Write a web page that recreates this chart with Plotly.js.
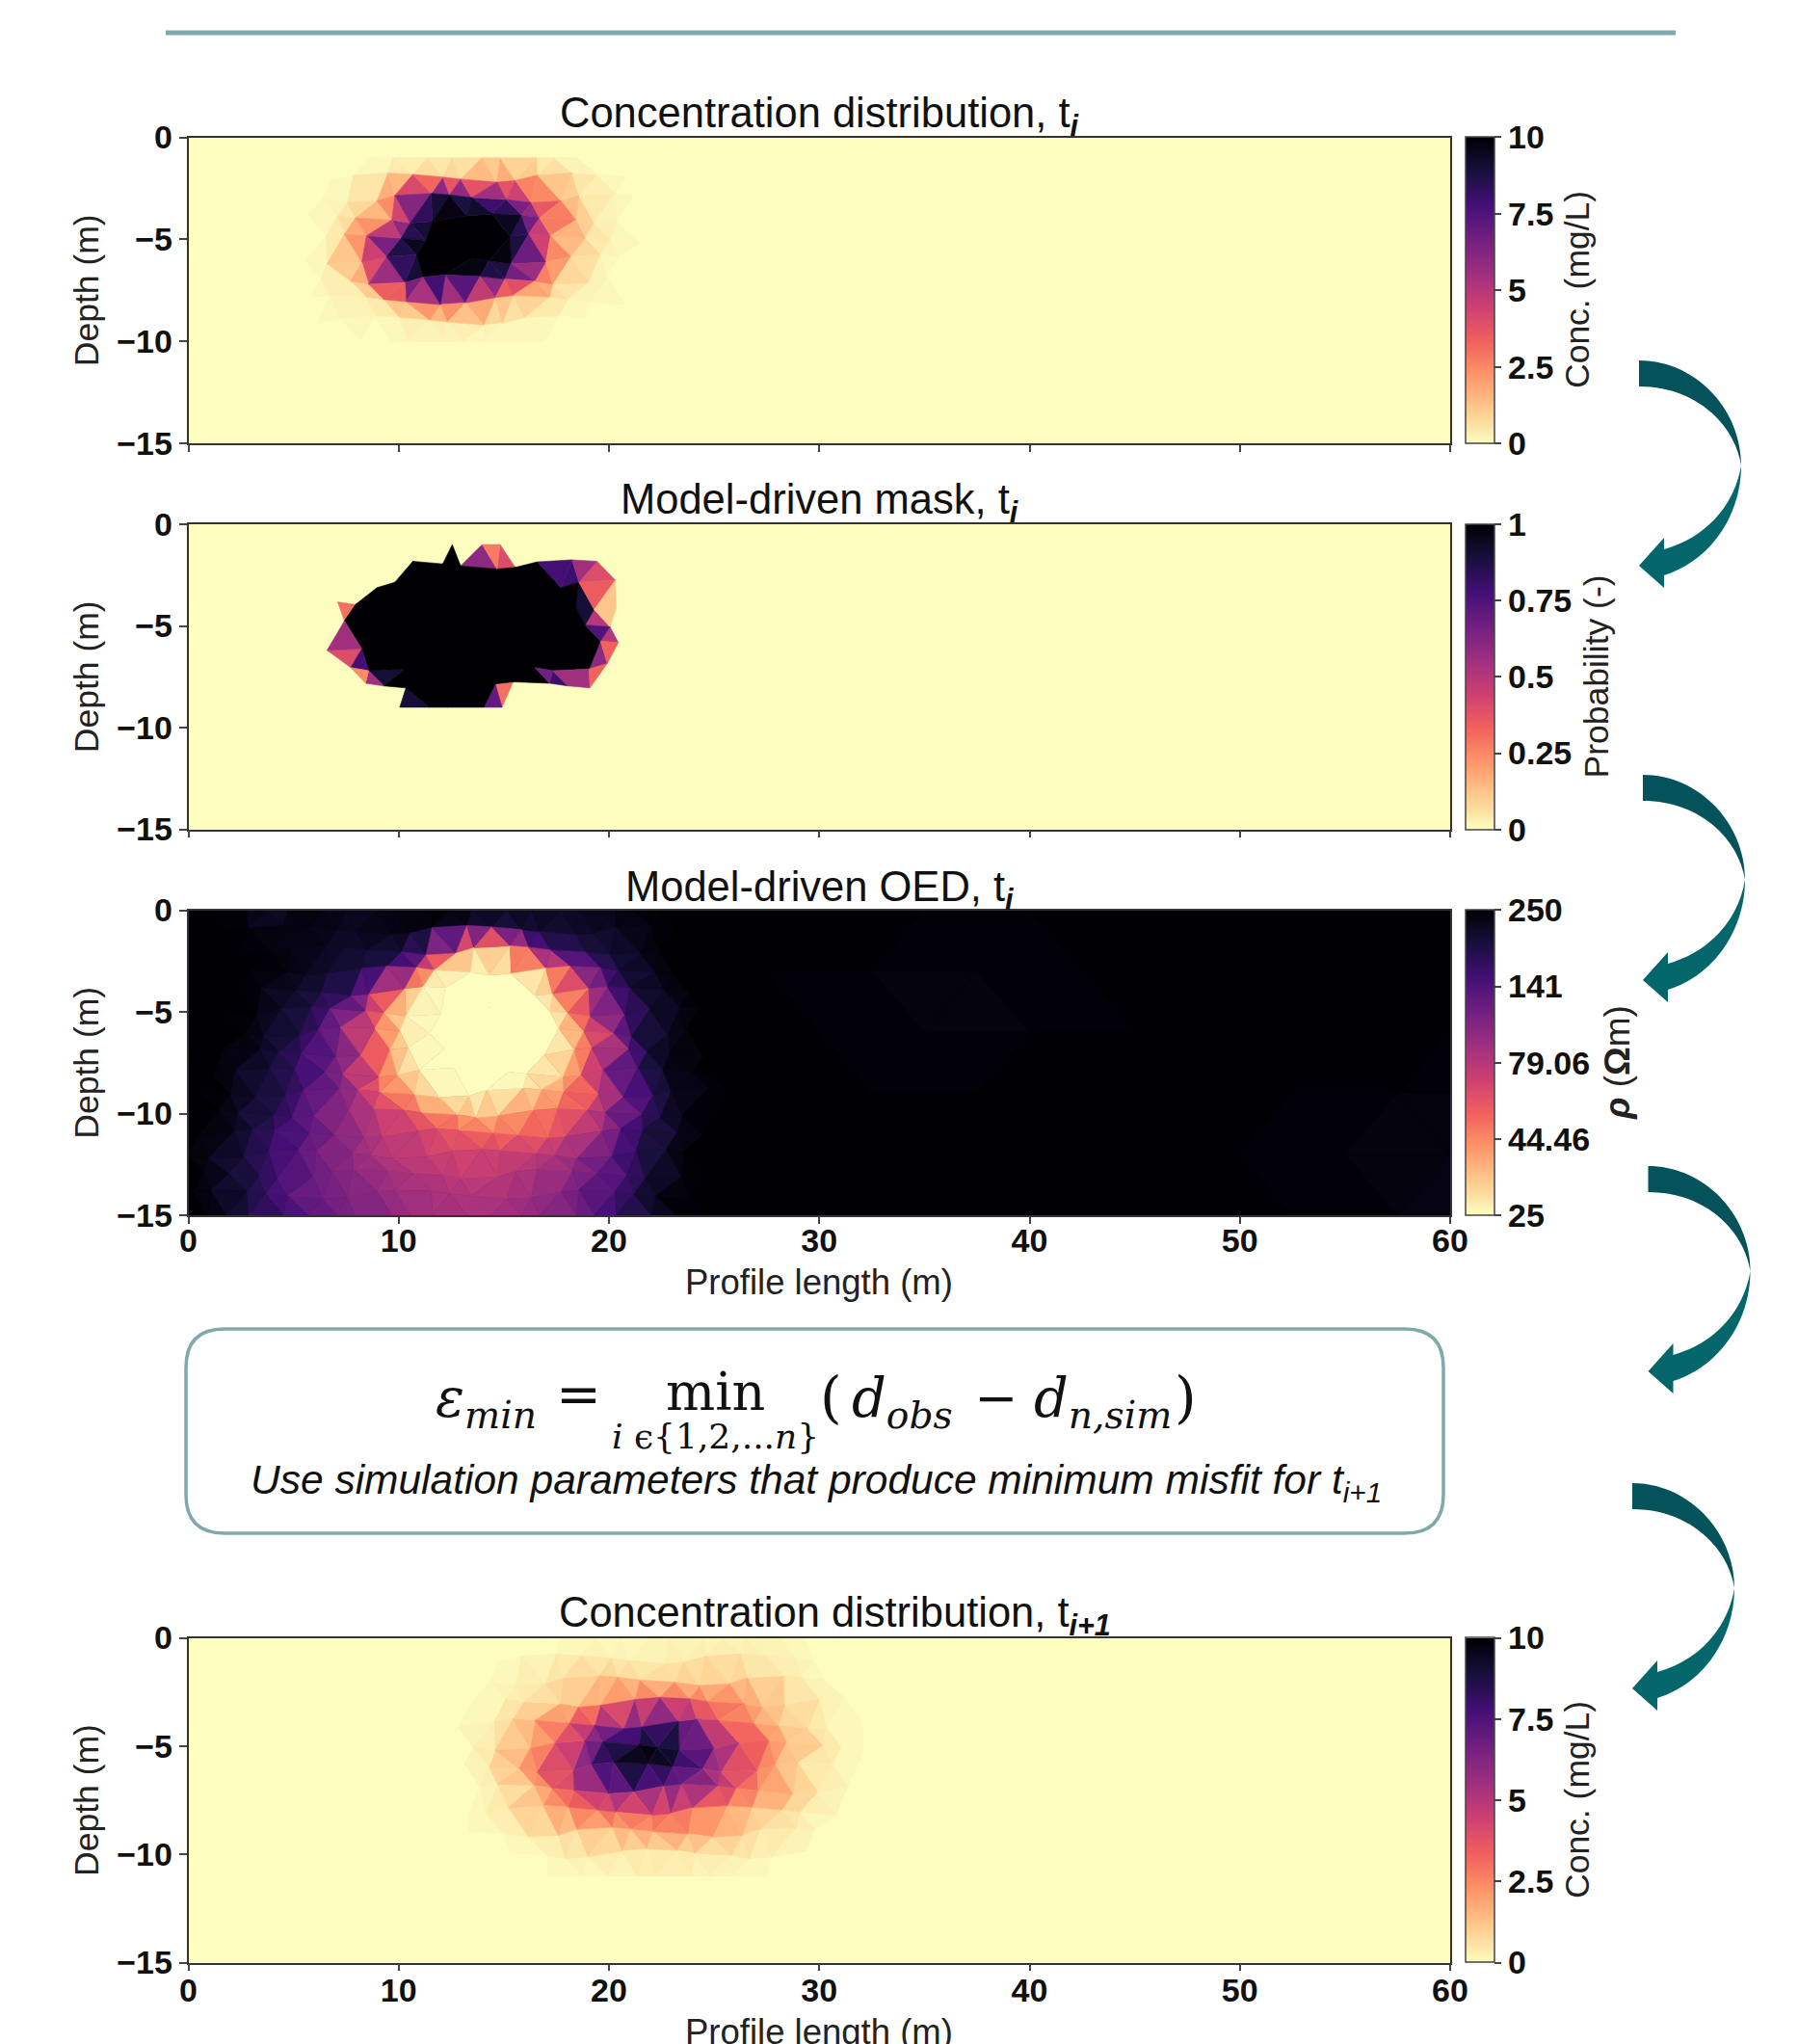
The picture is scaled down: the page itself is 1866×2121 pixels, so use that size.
<!DOCTYPE html>
<html><head><meta charset="utf-8">
<script src="https://cdn.plot.ly/plotly-3.0.1.min.js"></script>
<style>html,body{margin:0;padding:0;background:#fff}</style></head>
<body><div id="chart" style="width:1866px;height:2121px"></div>
<script>
// ---------- values (0-10 colour scale) ----------
const lengthTicks = [0,10,20,30,40,50,60];
const depthTicks = [0,-5,-10,-15];
const concTickVals = [0,2.5,5,7.5,10];
const concTickText = ['0','2.5','5','7.5','10'];
const maskTickText = ['0','0.25','0.5','0.75','1'];
const oedTickText = ['25','44.46','79.06','141','250'];

// node values
const concTi = [
[0,0,0,0,0.1,0.25,0.3,0.3,0.25,0.1,0.05,0,0,0],
[0,0,0,0.3,0.7,1,1.2,2.6,2.2,1.1,0.6,0.1,0,0],
[0,0,0.3,1.2,3.5,8,9,7.5,6.5,4.5,1.8,0.7,0.1,0],
[0,0.2,1,2.4,7,10,10,10,8.5,4.5,1.8,0.5,0.1,0],
[0,0.1,0.8,3.5,8.5,10,10,10,10,7,2.2,0.8,0.2,0],
[0,0.3,2.4,7.5,10,10,10,10,9.5,4,1.2,0.3,0,0],
[0,0.1,0.6,2.2,7,10,10,9,7,3.2,1,0.3,0.1,0],
[0,0.1,0.3,0.9,2.5,3.5,3,2,1.5,0.9,0.3,0.1,0,0],
[0,0,0.05,0.1,0.3,0.5,0.5,0.3,0.2,0.2,0.1,0,0,0],
[0,0,0,0,0,0,0,0,0,0,0,0,0,0]];

// per-triangle values, left to right along each mesh row
const maskTi = [
[0,0,0,0,0,0,0,0,0,0,0,10,0,6,2.8,4,0,0,0,0,0,0,0,0,0,0],
[0,0,0,0,0,0,0,0,10,10,10,10,10,10,10,10,10,10,10,7.8,8,5.5,4,0,0,0],
[0,0,0,0,0,10,10,10,10,10,10,10,10,10,10,10,10,10,10,10,10,9,3.5,1.2,0,0],
[0,0,0,3,10,10,10,10,10,10,10,10,10,10,10,10,10,10,10,10,10,9,5,1.2,0,0],
[0,0,0,5.5,10,10,10,10,10,10,10,10,10,10,10,10,10,10,10,10,10,10,7.5,5,0,0],
[0,0,0,4,7.8,10,10,10,10,10,10,10,10,10,10,10,10,10,10,10,10,10,6,3.3,0,0],
[0,0,0,0,2.4,5.5,9,10,10,10,10,10,10,10,10,10,10,10,6.7,8,5.5,5.5,3.3,0,0,0],
[0,0,0,0,0,0,0,0,9,10,10,10,10,10,7,3,0,0,0,0,0,0,0,0,0,0]];

const oedNear = [
[10,10,9.8,9,9.7,9.8,9.5,9.5,9.8,10,10,9.8,9.6,9.6,9.7,9.6,9.8,9.9,10,10,10],
[10,10,9.9,9.6,9.8,9.5,9.5,9.7,9.7,9.6,9.2,8.6,8.8,8.8,9,9.2,9.5,9.8,10,10,10],
[10,10,10,9.9,9.7,9.5,9.3,9.2,8.8,7,2.5,1,2,6.5,8,8.8,9,9.5,10,10,10],
[10,10,10,9.8,9.5,9.2,8.9,8.6,6,1,0,0,0,1.5,5.5,7.8,8.8,9.5,9.9,10,10],
[10,10,10,9.7,9.2,8.8,8,5.5,2.5,0.3,0,0,0,0,1.5,5,7.3,9,9.6,10,10],
[10,10,9.9,9.3,8.8,7.8,5.5,2.5,0.2,0,0,0,0,0,1.6,4.6,7.3,9,9.6,10,10],
[10,10,9.9,9.2,8.7,7.6,6,3.2,0.8,0,0,0,0,0,0.1,3,5.8,8.6,9.5,9.9,10],
[10,10,9.6,9,8,7,5.2,2.2,0.2,0,0,0,0,0,1.4,3.6,6.5,8.8,9.5,10,10],
[10,10,9.5,8.8,8.2,7,5.8,3.2,1.6,0.1,0,0,0,0.1,1.4,3.4,6.2,8.5,9.5,10,10],
[10,9.9,9.2,8.7,7.8,6.6,5.5,3,2,0.3,0,0,0.3,1,2.4,3.8,6.3,8.2,9.3,9.8,10],
[10,9.9,9.2,8.5,7.6,6.6,5.6,4.8,3.6,2.8,2,1.6,1.8,2.6,3,4.2,6,8,9,9.8,10],
[10,9.6,9,8.2,7.4,6.6,5.6,5,4.6,3.8,3.2,3,3.2,3.8,4.4,5.4,7,8.4,9.2,10,10],
[10,9.5,8.8,8,7.2,6.5,5.8,5.2,4.8,4.6,4.3,4.2,4.4,4.8,5.3,6,7.4,8.6,9.5,10,10],
[10,9.4,8.6,8,7,6.5,6,5.5,5.2,5,4.8,4.8,5,5.2,5.8,6.7,7.6,8.7,9.7,10,10],
[10,9.4,8.8,8,7.2,6.6,6.3,5.9,5.5,5.3,5.2,5.2,5.4,5.7,6.2,7,7.8,8.8,9.8,10,10],
[10,9.6,8.9,8.1,7.5,6.8,6.5,6.1,5.8,5.5,5.4,5.4,5.6,6,6.5,7.2,8,9,9.8,10,10]];

const oedFar = [
[10,10,10,10,10,10,10,10],
[10,9.9,9.8,9.9,10,10,10,10],
[10,9.9,9.8,9.9,10,10,10,10],
[10,10,10,10,10,10,9.9,9.9],
[10,10,10,10,10,9.9,9.9,9.7],
[10,10,10,10,10,10,9.8,9.6]];

const concTi1 = [
[0,0,0,0,0,0,0,0.05,0.1,0.15,0.15,0.1,0.05,0,0,0],
[0,0,0,0.1,0.2,0.3,0.3,0.3,0.4,0.4,0.4,0.3,0.2,0.1,0,0],
[0,0.1,0.3,0.6,0.8,1,1,0.9,1,1.2,1.2,0.8,0.4,0.15,0,0],
[0,0.1,0.4,0.9,1.3,2.4,3,3.2,3.2,3,2.5,1.8,1,0.5,0.1,0],
[0.1,0.3,1,1.6,3.6,5.5,7,7.5,7,4.5,3.2,2,1,0.5,0.1,0],
[0.1,0.6,1.6,3,5,7.5,9,10,9.5,6.5,4.5,3,1.8,0.8,0.2,0.1],
[0.1,0.5,2,3.4,5.5,7.5,9.5,10,8.2,6,4.5,2.8,1.6,0.6,0.1,0],
[0,0.3,1.2,2.5,4,5.5,6.5,6.5,7,5.5,4,2.6,1.4,0.6,0.1,0],
[0,0.2,0.7,1.8,2.8,3.8,3.4,3,3.5,3,2.2,1.3,0.8,0.3,0,0],
[0,0.1,0.2,0.5,1,1.6,2,2.3,2,1.5,1,0.6,0.4,0.1,0,0],
[0,0,0,0.1,0.2,0.3,0.5,0.5,0.5,0.4,0.3,0.2,0.1,0,0,0],
[0,0,0,0,0,0.05,0.1,0.15,0.15,0.1,0.05,0,0,0,0,0]];

// small node displacements of the unstructured mesh, in metres
const meshShiftX = [0.22,-0.18,0.3,-0.08,-0.28,0.12,0.05];
const meshShiftY = [0.15,-0.2,0.05,0.25,-0.12,-0.05,0.18];

const magma = ['#fcfdbf','#feca8d','#fd9668','#f1605d','#cd4071','#9e2f7f','#721f81','#440f76','#180f3d','#000004'];
const magmaScale = magma.map((c,i)=>[i/(magma.length-1),c]);
const teal = '#7fa9ab';
const W = 1866, H = 2121;
const px = v => v/W, py = v => 1-v/H;
const sans = '"Liberation Sans", Arial, sans-serif';
const serif = '"DejaVu Serif", "Liberation Serif", serif';

function hex(c){return [1,3,5].map(i=>parseInt(c.substr(i,2),16));}
function colorAt(v){
  const t = Math.max(0,Math.min(1,v/10))*(magma.length-1);
  const i = Math.min(magma.length-2,Math.floor(t)), f = t-i;
  const a = hex(magma[i]), b = hex(magma[i+1]);
  return 'rgb('+a.map((p,k)=>Math.round(p+(b[k]-p)*f)).join(',')+')';
}

// Flat-coloured triangles over a lattice of nodes, one fill trace per colour step.
function meshTraces(blocks, axis, skipBelow){
  const bins = {}, out = [];
  blocks.forEach(b=>{
    const rows = b.cellRows ? b.cellRows.length+1 : b.levels.length;
    const cols = b.cellRows ? b.cellRows[0].length/2+1 : b.levels[0].length;
    const jx = b.rigid ? 0 : 1;
    const X = (i,j)=> b.x0 + i*b.dx + (j%2 ? b.dx/2 : 0) + jx*meshShiftX[(i+2*j)%7];
    const Y = (i,j)=> b.y0 - j*b.dy + ((j>0 && j<rows-1) ? jx*meshShiftY[(3*i+j)%7] : 0);
    const put = (m,p)=>{
      if (m < skipBelow) return;
      const k = Math.round(m*10)/10;
      const e = bins[k] || (bins[k]={x:[],y:[]});
      p.concat([p[0]]).forEach(q=>{e.x.push(X(q[0],q[1]));e.y.push(Y(q[0],q[1]));});
      e.x.push(null);e.y.push(null);
    };
    const mean = p => { const L=b.levels; return (L[p[0][1]][p[0][0]]+L[p[1][1]][p[1][0]]+L[p[2][1]][p[2][0]])/3; };
    for (let j=0;j<rows-1;j++) for (let i=0;i<cols-1;i++){
      const a = j%2===0 ? [[i,j],[i+1,j],[i,j+1]] : [[i,j],[i,j+1],[i+1,j+1]];
      const c = j%2===0 ? [[i+1,j],[i,j+1],[i+1,j+1]] : [[i,j],[i+1,j],[i+1,j+1]];
      if (b.cellRows){ put(b.cellRows[j][2*i],a); put(b.cellRows[j][2*i+1],c); }
      else { put(mean(a),a); put(mean(c),c); }
    }
  });
  Object.keys(bins).forEach(k=>{
    const c = colorAt(+k);
    out.push({type:'scatter',mode:'lines',x:bins[k].x,y:bins[k].y,fill:'toself',fillcolor:c,
      line:{color:c,width:0.6},xaxis:axis.x,yaxis:axis.y,hoverinfo:'skip',showlegend:false});
  });
  return out;
}

function scaleTrace(blocks, axis, top, bottom, tickText){
  const x=[],y=[],c=[];
  blocks.forEach(b=>(b.levels||b.cellRows).forEach((row,j)=>row.forEach((v,i)=>{
    x.push(b.x0+i*b.dx*(b.levels?1:0.5)+(j%2?b.dx/2:0)); y.push(b.y0-j*b.dy); c.push(v);
  })));
  return {type:'scatter',mode:'markers',x,y,xaxis:axis.x,yaxis:axis.y,showlegend:false,hoverinfo:'skip',
    marker:{size:1,opacity:0,color:c,cmin:0,cmax:10,colorscale:magmaScale,showscale:true,
      colorbar:{x:px(1521),xref:'paper',xanchor:'left',y:1-(top+bottom)/2/H,yanchor:'middle',yref:'paper',
        len:(bottom-top)/H,lenmode:'fraction',thickness:30,thicknessmode:'pixels',xpad:0,ypad:0,
        outlinewidth:1.5,outlinecolor:'#444',ticks:'outside',ticklen:7,tickwidth:1.5,tickcolor:'#444',
        tickmode:'array',tickvals:concTickVals,ticktext:tickText,
        tickfont:{family:sans,size:34,color:'#111',weight:700}}}};
}

const panels = [
 {top:142.5,bottom:460,bg:magma[0],labels:false,skip:0.02,tick:concTickText,tx:850,
  title:'Concentration distribution, t<sub><b><i>i</i></b></sub>',ty:120,
  blocks:[{x0:5,y0:-1,dx:1.25,dy:1,levels:concTi}]},
 {top:544,bottom:860.5,bg:magma[0],labels:false,skip:0.02,tick:maskTickText,tx:850,
  title:'Model-driven mask, t<sub><b><i>i</i></b></sub>',ty:521,
  blocks:[{x0:5,y0:-1,dx:1.25,dy:1,cellRows:maskTi}]},
 {top:944.5,bottom:1261,bg:magma[9],labels:true,skip:-1,tick:oedTickText,standoff:-12,xTitleY:1330,tx:850,
  title:'Model-driven OED, t<sub><b><i>i</i></b></sub>',ty:923,
  blocks:[{x0:25,y0:0,dx:5,dy:3,levels:oedFar,rigid:true},{x0:0,y0:0,dx:1.25,dy:1,levels:oedNear}]},
 {top:1699.5,bottom:2036.5,bg:magma[0],labels:true,skip:0.02,tick:concTickText,standoff:-9,xTitleY:2108,tx:866,
  title:'Concentration distribution, t<sub><b><i>i+1</i></b></sub>',ty:1676,
  blocks:[{x0:13,y0:0,dx:1.25,dy:1,levels:concTi1}]}
];

const traces=[], layout={width:W,height:H,margin:{l:0,r:0,t:0,b:0},paper_bgcolor:'#fff',plot_bgcolor:'rgba(0,0,0,0)',showlegend:false,
  font:{family:sans,color:'#111'},annotations:[],shapes:[]};
const axisFont={family:sans,size:34,color:'#111',weight:700};

panels.forEach((p,n)=>{
  const s = n===0?'':String(n+1);
  const axis={x:'x'+s,y:'y'+s};
  layout['xaxis'+s]={domain:[px(195.5),px(1505)],range:[0,60],anchor:axis.y,tickmode:'array',tickvals:lengthTicks,
    showticklabels:p.labels,ticks:'outside',ticklen:7,tickwidth:1.5,tickcolor:'#444',tickfont:axisFont,ticklabelstandoff:p.standoff||0,
    showgrid:false,zeroline:false,showline:true,mirror:true,linecolor:'#333',linewidth:1.5,automargin:false};
  layout['yaxis'+s]={domain:[1-p.bottom/H,1-p.top/H],range:[-15,0],anchor:axis.x,tickmode:'array',tickvals:depthTicks,
    ticks:'outside',ticklen:8,tickwidth:1.5,tickcolor:'#444',tickfont:axisFont,
    showgrid:false,zeroline:false,showline:true,mirror:true,linecolor:'#333',linewidth:1.5,
    title:{text:'Depth (m)',font:{family:sans,size:35.5,color:'#222'},standoff:8},automargin:false};
  layout.shapes.push({type:'rect',xref:'x'+s+' domain',yref:'y'+s+' domain',x0:0,x1:1,y0:0,y1:1,fillcolor:p.bg,line:{width:0},layer:'below'});
  meshTraces(p.blocks,axis,p.skip).forEach(t=>traces.push(t));
  traces.push(scaleTrace(p.blocks,axis,p.top,p.bottom,p.tick));
  layout.annotations.push({text:p.title,xref:'paper',yref:'paper',x:px(p.tx),y:py(p.ty),xanchor:'center',yanchor:'middle',showarrow:false,
    font:{family:sans,size:43.5,color:'#111'}});
  if (p.xTitleY) layout.annotations.push({text:'Profile length (m)',xref:'paper',yref:'paper',x:px(850),y:py(p.xTitleY),xanchor:'center',yanchor:'middle',showarrow:false,
    font:{family:sans,size:36.5,color:'#222'}});
});

// colour-bar titles
[['Conc. (mg/L)',1637,301,35.5],['Probability (-)',1656,702.5,35.5],['<b><i>ρ</i></b> (<b>Ω</b>m)',1678,1103,37],['Conc. (mg/L)',1637,1868,35.5]]
 .forEach(a=>layout.annotations.push({text:a[0],xref:'paper',yref:'paper',x:px(a[1]),y:py(a[2]),xanchor:'center',yanchor:'middle',
   textangle:-90,showarrow:false,font:{family:sans,size:a[3],color:'#222'}}));

// top rule and the rounded box
const line = {color:teal,width:5};
layout.shapes.push({type:'line',xref:'paper',yref:'paper',x0:px(172),x1:px(1739),y0:py(34),y1:py(34),line});
function pathOf(cmds){ return cmds.map(c=>c[0]+' '+c.slice(1).map((v,i)=>i%2?py(v):px(v)).join(' ')).join(' '); }
const bx0=193,bx1=1498,by0=1379,by1=1591,r=40;
layout.shapes.push({type:'path',xref:'paper',yref:'paper',fillcolor:'#fff',line:{color:teal,width:3.5},
  path:pathOf([['M',bx0+r,by0],['L',bx1-r,by0],['Q',bx1,by0,bx1,by0+r],['L',bx1,by1-r],['Q',bx1,by1,bx1-r,by1],['L',bx0+r,by1],['Q',bx0,by1,bx0,by1-r],['L',bx0,by0+r],['Q',bx0,by0,bx0+r,by0]])+' Z'});

// curved arrows
[[0,0],[4,430],[9.5,836],[-7,1165]].forEach(o=>{
  const X=v=>v+o[0], Y=v=>v+o[1];
  const C=(a,b,c,d,e,f)=>['C',X(a),Y(b),X(c),Y(d),X(e),Y(f)];
  const L=(a,b,t)=>[t,X(a),Y(b)];
  layout.shapes.push({type:'path',xref:'paper',yref:'paper',fillcolor:'#04525a',line:{width:0},
    path:pathOf([L(1701,374,'M'),C(1760,374,1807,425,1807,483),C(1800,440,1760,401,1701,401)])+' Z'});
  layout.shapes.push({type:'path',xref:'paper',yref:'paper',fillcolor:'#03666a',line:{width:0},
    path:pathOf([L(1807,483,'M'),C(1807,535,1775,582,1727,597),L(1727,610,'L'),L(1701,587,'L'),L(1727,558,'L'),L(1727,570,'L'),C(1770,558,1800,525,1807,483)])+' Z'});
});

// formula and caption
const note=(text,x,y,size,anchor,family)=>layout.annotations.push({text,xref:'paper',yref:'paper',x:px(x),y:py(y),
  xanchor:anchor,yanchor:'middle',showarrow:false,font:{family,size,color:'#111'}});
note('<i>ε<sub>min</sub></i>',450,1454,56,'left',serif);
note('=',600,1447,56,'center',serif);
note('min',742,1444,54,'center',serif);
note('<i>i</i> ϵ{1,2,...<i>n</i>}',742,1490,36,'center',serif);
note('(',862,1450,58,'center',serif);
note('<i>d<sub>obs</sub></i>',882,1454,56,'left',serif);
note('−',1033,1450,54,'center',serif);
note('<i>d<sub>n,sim</sub></i>',1071,1454,56,'left',serif);
note(')',1230,1450,58,'center',serif);
note('<i>Use simulation parameters that produce minimum misfit for t<sub>i+1</sub></i>',847,1538,42.5,'center',sans);

Plotly.newPlot('chart',traces,layout,{displayModeBar:false,responsive:false});
</script></body></html>
